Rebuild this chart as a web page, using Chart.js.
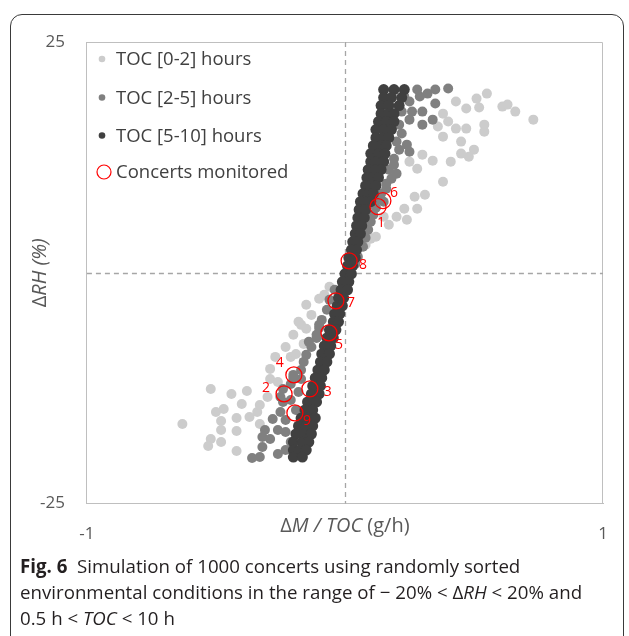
<!DOCTYPE html>
<html>
<head>
<meta charset="utf-8">
<script src="https://cdn.jsdelivr.net/npm/chart.js@4/dist/chart.umd.min.js"></script>
<style>
  html, body { margin: 0; padding: 0; background: #fff; }
  body { width: 629px; height: 636px; position: relative; overflow: hidden; }
  #frame {
    position: absolute; left: 10px; top: 14px; width: 614px; height: 660px;
    border: 1.5px solid #3a3a3a; border-radius: 12px; box-sizing: border-box;
  }
  #wrap { position: absolute; left: 0; top: 0; width: 629px; height: 580px; }
  #caption {
    position: absolute; left: 20px; top: 553px; width: 605px;
    font-family: "Open Sans", sans-serif; font-size: 18.7px; line-height: 26px; color: #231f20;
  }
  #caption b { font-weight: 700; }
</style>
</head>
<body>
<div id="frame"></div>
<div id="wrap"><canvas id="chart" width="629" height="580"></canvas></div>
<div id="caption">
  <b>Fig. 6</b>&nbsp; Simulation of 1000 concerts using randomly sorted<br>
  environmental conditions in the range of − 20% &lt; Δ<i>RH</i> &lt; 20% and<br>
  0.5 h &lt; <i>TOC</i> &lt; 10 h
</div>
<script>
// values: [ΔM/TOC (g/h), ΔRH (%)]
const seriesNames = ['TOC [0-2] hours', 'TOC [2-5] hours', 'TOC [5-10] hours', 'Concerts monitored'];

const toc0to2 = [
    [0.43, 18.55], [0.51, 18.87], [0.55, 19.41], [0.47, 17.79], [0.52, 17.9], [0.61, 18.0],
    [0.63, 18.22], [0.66, 17.46], [0.73, 16.59], [0.38, 17.24], [0.4, 16.38], [0.36, 15.84],
    [0.43, 15.62], [0.47, 15.62], [0.54, 16.05], [0.54, 15.29], [0.38, 14.75], [0.45, 14.21],
    [0.5, 13.34], [0.45, 12.91], [0.48, 12.58], [0.41, 12.04], [0.34, 12.15], [0.3, 12.8],
    [0.25, 12.04], [0.28, 11.28], [0.38, 9.87], [0.31, 8.46], [0.27, 8.24], [0.23, 6.94],
    [0.28, 6.94], [0.24, 5.75], [0.2, 6.07], [0.17, 5.21], [0.15, 6.07], [0.12, 3.9],
    [0.1, 3.69], [0.08, 3.04],
    [-0.63, -16.38], [-0.52, -12.58], [-0.44, -13.12], [-0.38, -12.8], [-0.5, -15.08],
    [-0.47, -14.75], [-0.48, -16.05], [-0.42, -15.73], [-0.4, -14.21], [-0.48, -17.03],
    [-0.42, -17.14], [-0.52, -18.0], [-0.53, -18.76], [-0.48, -18.33], [-0.42, -19.31],
    [-0.37, -15.62], [-0.34, -15.08], [-0.33, -14.32], [-0.3, -13.45], [-0.29, -10.41],
    [-0.27, -9.11], [-0.23, -8.03], [-0.21, -9.11], [-0.29, -11.5], [-0.26, -11.82],
    [-0.19, -8.79], [-0.16, -7.7], [-0.15, -6.07], [-0.33, -16.38], [-0.17, -5.64],
    [-0.13, -4.56], [-0.15, -3.47], [-0.1, -2.82], [-0.08, -2.39], [-0.06, -1.52],
    [-0.2, -6.72], [-0.18, -5.31]
];

const toc2to5 = [
    [0.28, 19.85], [0.35, 19.85], [0.4, 19.96], [0.29, 19.09], [0.32, 19.41], [0.23, 19.09],
    [0.25, 18.55], [0.35, 18.33], [0.22, 17.46], [0.26, 17.46], [0.3, 17.46], [0.25, 16.59],
    [0.34, 16.59], [0.3, 16.05], [0.21, 16.05], [0.22, 15.08], [0.2, 14.21], [0.24, 13.88],
    [0.21, 13.34], [0.25, 13.12], [0.19, 12.36], [0.19, 11.71], [0.17, 11.17], [0.2, 10.74],
    [0.18, 10.2], [0.16, 9.65], [0.16, 9.11], [0.14, 8.57], [0.13, 7.92], [0.15, 7.7],
    [0.12, 7.05], [0.11, 6.29], [0.1, 5.53], [0.09, 4.66], [0.08, 3.8], [0.07, 2.82],
    [0.05, 1.74], [0.04, 0.98],
    [-0.04, -1.84], [-0.06, -2.93], [-0.07, -4.01], [-0.09, -5.1], [-0.1, -5.97],
    [-0.11, -7.05], [-0.13, -8.03], [-0.15, -8.89], [-0.11, -6.72], [-0.1, -5.64],
    [-0.14, -7.48], [-0.16, -9.65], [-0.17, -10.52], [-0.2, -11.39], [-0.17, -11.5],
    [-0.21, -12.04], [-0.18, -12.91], [-0.24, -12.58], [-0.24, -13.99], [-0.21, -13.77],
    [-0.25, -15.08], [-0.19, -14.86], [-0.23, -15.94], [-0.28, -15.84], [-0.31, -17.03],
    [-0.26, -17.03], [-0.29, -18.0], [-0.23, -17.25], [-0.21, -18.33], [-0.32, -17.79],
    [-0.32, -18.87], [-0.36, -20.07], [-0.33, -19.96], [-0.26, -19.63], [-0.23, -19.2],
    [-0.25, -13.45], [-0.2, -11.06]
];

const toc5to10 = [
    [0.15, 19.85], [0.19, 19.85], [0.23, 19.85], [0.15, 18.98], [0.18, 18.98], [0.22, 18.98],
    [0.14, 18.11], [0.17, 18.11], [0.21, 18.11], [0.14, 17.24], [0.17, 17.24], [0.19, 17.24],
    [0.13, 16.38], [0.16, 16.38], [0.19, 16.38], [0.12, 15.51], [0.15, 15.51], [0.18, 15.51],
    [0.12, 14.64], [0.15, 14.64], [0.17, 14.64], [0.11, 13.77], [0.14, 13.77], [0.16, 13.77],
    [0.1, 12.91], [0.13, 12.91], [0.155, 12.91], [0.1, 12.04], [0.12, 12.04], [0.15, 12.04],
    [0.09, 11.17], [0.12, 11.17], [0.14, 11.17], [0.085, 10.3], [0.11, 10.3], [0.13, 10.3],
    [0.08, 9.44], [0.1, 9.44], [0.12, 9.44], [0.07, 8.57], [0.09, 8.57], [0.11, 8.57],
    [0.06, 7.7], [0.085, 7.7], [0.1, 7.7], [0.055, 6.83], [0.08, 6.83], [0.05, 5.97],
    [0.075, 5.97], [0.045, 5.1], [0.065, 5.1], [0.04, 4.23], [0.06, 4.23], [0.03, 3.36],
    [0.05, 3.36], [0.025, 2.49], [0.045, 2.49], [0.015, 1.63], [0.04, 1.63], [0.01, 0.76],
    [0.03, 0.76], [0.0, -0.11], [0.025, -0.11], [-0.01, -0.98], [0.015, -0.98],
    [-0.015, -1.84], [0.01, -1.84], [-0.025, -2.71], [-0.005, -2.71], [-0.03, -3.58],
    [-0.01, -3.58], [-0.04, -4.45], [-0.02, -4.45], [-0.045, -5.31], [-0.025, -5.31],
    [-0.06, -6.18], [-0.035, -6.18], [-0.07, -7.05], [-0.045, -7.05], [-0.08, -7.92],
    [-0.055, -7.92], [-0.09, -8.79], [-0.06, -8.79], [-0.095, -9.65], [-0.07, -9.65],
    [-0.105, -10.52], [-0.08, -10.52], [-0.115, -11.39], [-0.09, -11.39], [-0.125, -12.26],
    [-0.095, -12.26], [-0.13, -13.12], [-0.1, -13.12], [-0.145, -13.99], [-0.11, -13.99],
    [-0.155, -14.86], [-0.125, -14.86], [-0.17, -15.73], [-0.145, -15.73], [-0.115, -15.73],
    [-0.18, -16.59], [-0.15, -16.59], [-0.125, -16.59], [-0.19, -17.46], [-0.16, -17.46],
    [-0.13, -17.46], [-0.2, -18.33], [-0.165, -18.33], [-0.14, -18.33], [-0.2, -19.2],
    [-0.175, -19.2], [-0.15, -19.2], [-0.2, -19.96], [-0.165, -19.96]
];

const concertIds = ['1', '6', '8', '7', '5', '4', '2', '3', '9'];
const concertX = [0.128, 0.147, 0.016, -0.035, -0.062, -0.198, -0.236, -0.136, -0.194];
const concertY = [7.16, 7.81, 1.3, -3.04, -6.51, -11.06, -13.12, -12.58, -15.18];

const xTicks = [-1, 1];
const yTicks = [-25, 25];

const colors = ['#cccccc', '#808080', '#404040', '#ff0000'];
const textColor = '#595959';
const tickFont = { family: "'Open Sans', sans-serif", size: 17 };

const toPoints = arr => arr.map(p => ({ x: p[0], y: p[1] }));

// label offsets (px) for the concert numbers, in concertIds order
const labelOffsets = [[3, 16], [11, -8], [14, 4], [15, 2], [10, 12], [-14, -12], [-18, -6], [18, 3], [12, 8]];

const framePlugin = {
    id: 'frameLines',
    beforeDatasetsDraw(chart) {
        const { ctx, chartArea: a, scales } = chart;
        ctx.save();
        ctx.strokeStyle = '#bfbfbf';
        ctx.lineWidth = 1;
        ctx.beginPath();
        ctx.moveTo(a.left, a.top + 0.5);
        ctx.lineTo(a.right - 0.5, a.top + 0.5);
        ctx.lineTo(a.right - 0.5, a.bottom);
        ctx.stroke();
        ctx.strokeStyle = '#a6a6a6';
        ctx.lineWidth = 1.3;
        ctx.setLineDash([5, 4]);
        const x0 = Math.round(scales.x.getPixelForValue(0)) + 0.5;
        const y0 = Math.round(scales.y.getPixelForValue(0)) + 0.5;
        ctx.beginPath();
        ctx.moveTo(x0, a.top);
        ctx.lineTo(x0, a.bottom);
        ctx.moveTo(a.left, y0);
        ctx.lineTo(a.right, y0);
        ctx.stroke();
        ctx.restore();
    },
    afterDraw(chart) {
        const { ctx, chartArea: a } = chart;
        ctx.save();
        // concert numbers
        const meta = chart.getDatasetMeta(0);
        ctx.fillStyle = '#ff0000';
        ctx.font = "14px 'Open Sans', sans-serif";
        ctx.textAlign = 'center';
        ctx.textBaseline = 'middle';
        meta.data.forEach((pt, i) => {
            ctx.fillText(concertIds[i], pt.x + labelOffsets[i][0], pt.y + labelOffsets[i][1]);
        });

        // legend inside the plot area
        ctx.font = "18.5px 'Open Sans', sans-serif";
        ctx.textAlign = 'left';
        const rows = [59, 97.5, 135.5, 172];
        seriesNames.forEach((name, i) => {
            const cy = rows[i];
            ctx.beginPath();
            if (i < 3) {
                ctx.fillStyle = colors[i];
                ctx.arc(102, cy, 3.3, 0, Math.PI * 2);
                ctx.fill();
            } else {
                ctx.strokeStyle = colors[3];
                ctx.lineWidth = 1.2;
                ctx.arc(104, cy, 7, 0, Math.PI * 2);
                ctx.stroke();
            }
            ctx.fillStyle = '#404040';
            ctx.fillText(name, 116, cy + 1);
        });

        // axis titles with mixed italic
        const drawParts = (parts, x, y) => {
            let w = 0;
            parts.forEach(p => { ctx.font = p[1]; w += ctx.measureText(p[0]).width; });
            let cx = x - w / 2;
            parts.forEach(p => {
                ctx.font = p[1];
                ctx.fillText(p[0], cx, y);
                cx += ctx.measureText(p[0]).width;
            });
        };
        const up = "20px 'Open Sans', sans-serif";
        const it = "italic 20px 'Open Sans', sans-serif";
        ctx.fillStyle = textColor;
        ctx.textBaseline = 'middle';
        drawParts([['Δ', up], ['M / TOC', it], [' (g/h)', up]], (a.left + a.right) / 2, 526);
        ctx.translate(40, (a.top + a.bottom) / 2);
        ctx.rotate(-Math.PI / 2);
        drawParts([['Δ', up], ['RH (%)', it]], 0, 0);
        ctx.restore();
    }
};

new Chart(document.getElementById('chart'), {
    type: 'scatter',
    data: {
        datasets: [
            {
                label: seriesNames[3],
                data: concertX.map((x, i) => ({ x: x, y: concertY[i] })),
                pointRadius: 8,
                backgroundColor: 'rgba(0,0,0,0)',
                borderColor: colors[3],
                borderWidth: 1.3,
                order: 0
            },
            {
                label: seriesNames[2],
                data: toPoints(toc5to10),
                pointRadius: 5.5,
                borderWidth: 0,
                backgroundColor: colors[2],
                order: 1
            },
            {
                label: seriesNames[1],
                data: toPoints(toc2to5),
                pointRadius: 5,
                borderWidth: 0,
                backgroundColor: colors[1],
                order: 2
            },
            {
                label: seriesNames[0],
                data: toPoints(toc0to2),
                pointRadius: 5,
                borderWidth: 0,
                backgroundColor: colors[0],
                order: 3
            }
        ]
    },
    options: {
        responsive: false,
        animation: false,
        layout: { padding: { left: 18, right: 26, top: 42, bottom: 16 } },
        scales: {
            x: {
                type: 'linear',
                min: xTicks[0],
                max: xTicks[1],
                grid: { display: false, drawTicks: false },
                border: { display: true, color: '#bfbfbf' },
                afterBuildTicks: axis => { axis.ticks = xTicks.map(v => ({ value: v })); },
                ticks: { color: textColor, font: tickFont, padding: 20, maxRotation: 0 }
            },
            y: {
                min: yTicks[0],
                max: yTicks[1],
                grid: { display: false, drawTicks: false },
                border: { display: true, color: '#bfbfbf' },
                afterBuildTicks: axis => { axis.ticks = yTicks.map(v => ({ value: v })); },
                ticks: { color: textColor, font: tickFont, padding: 22 }
            }
        },
        plugins: {
            legend: { display: false },
            tooltip: { enabled: false }
        }
    },
    plugins: [framePlugin]
});
</script>
</body>
</html>
